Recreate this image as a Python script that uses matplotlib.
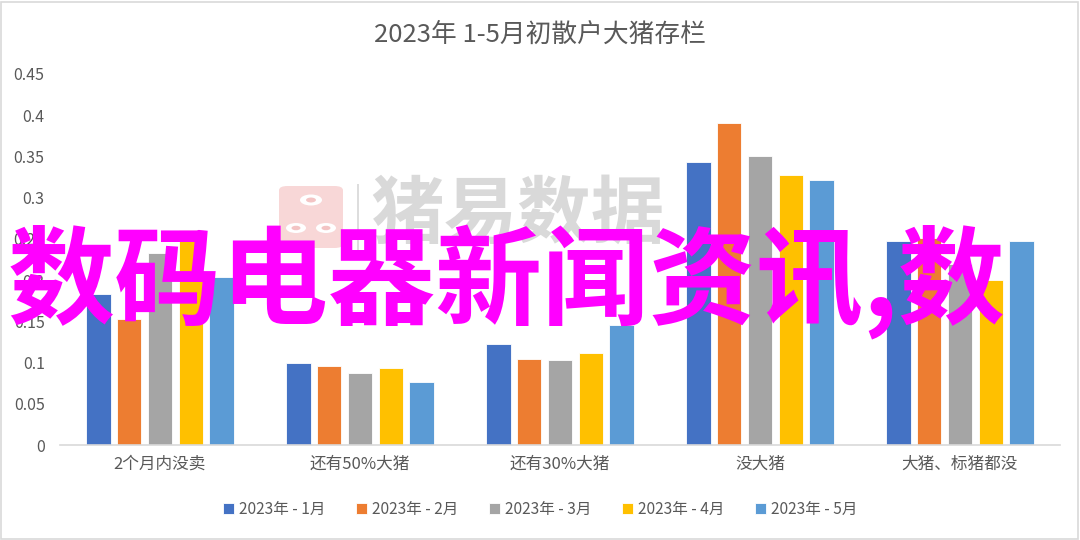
import matplotlib
matplotlib.use("Agg")
import matplotlib.pyplot as plt
from matplotlib.patches import FancyBboxPatch, Circle, Rectangle
import numpy as np

plt.rcParams["font.family"] = ["Noto Sans CJK SC", "DejaVu Sans"]

# ---------------------------------------------------------------------------
# Data
# ---------------------------------------------------------------------------
categories = ["2个月内没卖", "还有50%大猪", "还有30%大猪", "没大猪", "大猪、标猪都没"]
series_names = ["2023年 - 1月", "2023年 - 2月", "2023年 - 3月", "2023年 - 4月", "2023年 - 5月"]
jan = [0.183, 0.099, 0.123, 0.343, 0.247]
feb = [0.153, 0.096, 0.104, 0.390, 0.251]
mar = [0.233, 0.087, 0.103, 0.351, 0.220]
apr = [0.261, 0.093, 0.112, 0.327, 0.200]
may = [0.204, 0.077, 0.146, 0.322, 0.248]
yticks = [0, 0.05, 0.1, 0.15, 0.2, 0.25, 0.3, 0.35, 0.4, 0.45]
ytick_labels = ["0", "0.05", "0.1", "0.15", "0.2", "0.25", "0.3", "0.35", "0.4", "0.45"]

colors = ["#4472C4", "#ED7D31", "#A5A5A5", "#FFC000", "#5B9BD5"]
text_color = "#595959"

W, H = 1080, 540


def fx(px):
    return px / W


def fy(py):
    return 1 - py / H


# ---------------------------------------------------------------------------
# Figure
# ---------------------------------------------------------------------------
fig = plt.figure(figsize=(10.8, 5.4), dpi=100)
ax = fig.add_axes([fx(60), fy(445), 1000 / W, 371 / H])
ax.set_zorder(2)
ax.patch.set_alpha(0)

x = np.arange(len(categories))
pitch = 0.154
width = 0.122
for i, (vals, name, col) in enumerate(zip([jan, feb, mar, apr, may], series_names, colors)):
    ax.bar(x + (i - 2) * pitch, vals, width, color=col, label=name,
           edgecolor="white", linewidth=0.6, zorder=2)

ax.set_xlim(-0.5, len(categories) - 0.5)
ax.set_ylim(0, 0.45)
ax.set_yticks(yticks)
ax.set_yticklabels(ytick_labels)
ax.set_xticks(x)
ax.set_xticklabels(categories)
ax.tick_params(axis="both", length=0, colors=text_color)
ax.tick_params(axis="y", pad=11, labelsize=11.5)
ax.tick_params(axis="x", pad=8, labelsize=12)
for side in ["top", "right", "left"]:
    ax.spines[side].set_visible(False)
ax.spines["bottom"].set_color("#D9D9D9")
ax.spines["bottom"].set_linewidth(1.2)

fig.text(0.5, fy(35), "2023年 1-5月初散户大猪存栏", ha="center", va="center",
         fontsize=18.5, color=text_color)

leg = fig.legend(loc="center", bbox_to_anchor=(0.5, fy(509)), ncol=5,
                 frameon=False, fontsize=11.2, handlelength=0.7, handleheight=0.7,
                 handletextpad=0.3, columnspacing=2.0)
for t in leg.get_texts():
    t.set_color(text_color)

# watermark (logo + name), drawn behind the bars
logo = FancyBboxPatch((fx(279), fy(248)), 64 / W, 62 / H, boxstyle="round,pad=0,rounding_size=0.008",
                      transform=fig.transFigure, facecolor="#F8D7D7", edgecolor="none", zorder=0)
fig.patches.append(logo)
for cx, cy, r in [(311, 200, 11), (296, 228, 10), (326, 228, 10)]:
    fig.patches.append(Circle((fx(cx), fy(cy)), r / W, transform=fig.transFigure,
                              facecolor="white", edgecolor="none", zorder=0))
    fig.patches.append(Circle((fx(cx), fy(cy)), 0.45 * r / W, transform=fig.transFigure,
                              facecolor="#F3C4C4", edgecolor="none", zorder=0))
fig.patches.append(Rectangle((fx(357), fy(250)), 1.5 / W, 66 / H, transform=fig.transFigure,
                             facecolor="#DDDDDD", edgecolor="none", zorder=0))
fig.text(fx(370), fy(215), "猪易数据", ha="left", va="center", fontsize=53,
         color="#D9D9D9", fontweight="bold", zorder=0)

# overlay caption
fig.text(fx(8), fy(283), "数码电器新闻资讯,数", ha="left", va="center",
         fontsize=77, color="#FF00FF", fontweight="bold", zorder=10)

# light frame around the figure
fig.patches.append(Rectangle((0.001, 0.002), 0.997, 0.995, transform=fig.transFigure,
                             fill=False, edgecolor="#D9D9D9", linewidth=1.2))

fig.savefig("out.png", dpi=100)
